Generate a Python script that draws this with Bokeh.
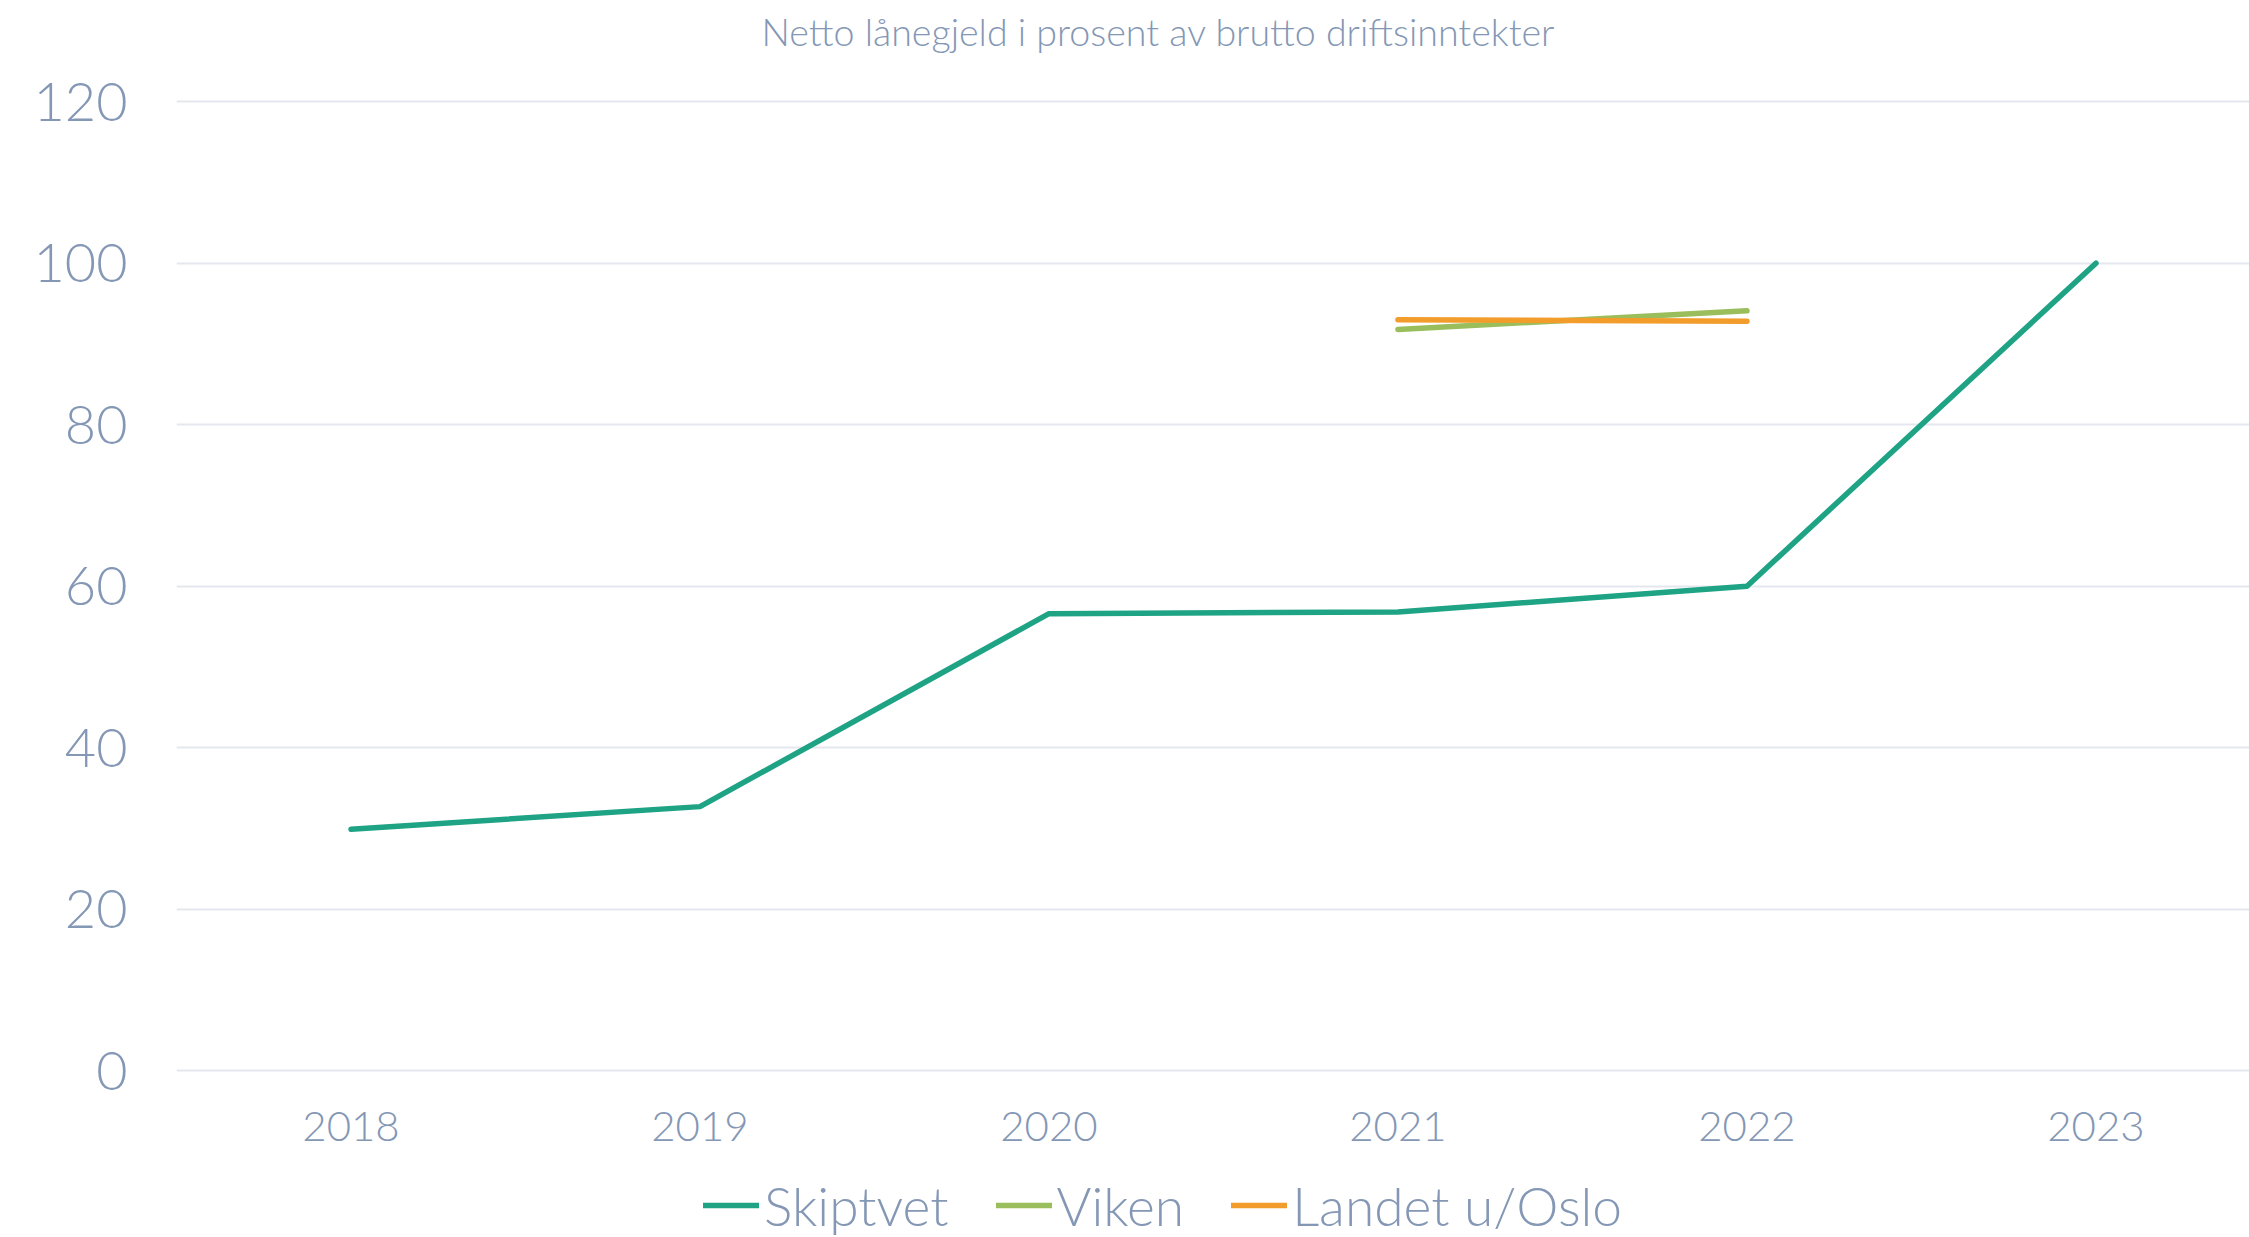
from bokeh.plotting import figure
from bokeh.models import Range1d, FixedTicker, Legend, LegendItem
from bokeh.embed import file_html
from bokeh.resources import INLINE

years = [2018, 2019, 2020, 2021, 2022, 2023]
skiptvet = [29.9, 32.7, 56.6, 56.8, 60.0, 100.0]
viken_years = [2021, 2022]
viken = [91.8, 94.1]
landet_years = [2021, 2022]
landet = [93.0, 92.8]
y_ticks = [0, 20, 40, 60, 80, 100, 120]

TXT = "#8497b5"
FONT = "Lato Light"

p = figure(width=2249, height=1237, output_backend="svg", toolbar_location=None,
           x_range=Range1d(2017.5, 2023.44), y_range=Range1d(-20.66, 125.1),
           min_border_left=176, min_border_right=0, min_border_top=0, min_border_bottom=0)
p.outline_line_color = None
p.background_fill_color = "white"
p.border_fill_color = "white"

p.title.text = "Netto lånegjeld i prosent av brutto driftsinntekter"
p.title.text_font = FONT
p.title.text_font_size = "37.6px"
p.title.text_font_style = "normal"
p.title.text_color = TXT
p.title.align = "left"
p.title.offset = 585
p.title.standoff = 13

p.xaxis.ticker = FixedTicker(ticks=years)
p.yaxis.ticker = FixedTicker(ticks=y_ticks)
p.xaxis.fixed_location = 0
for ax in (p.xaxis, p.yaxis):
    ax.axis_line_color = None
    ax.major_tick_line_color = None
    ax.minor_tick_line_color = None
    ax.major_tick_out = 0
    ax.major_tick_in = 0
    ax.minor_tick_out = 0
    ax.major_label_text_color = TXT
    ax.major_label_text_font = FONT
p.xaxis.major_label_text_font_size = "42px"
p.xaxis.major_label_standoff = 41
p.yaxis.major_label_text_font_size = "54px"
p.yaxis.major_label_standoff = 49

p.xgrid.grid_line_color = None
p.ygrid.grid_line_color = "#e4e7ed"
p.ygrid.grid_line_width = 2

r1 = p.line(years, skiptvet, line_color="#1ea384", line_width=5.5, line_cap="round", line_join="round")
r2 = p.line(viken_years, viken, line_color="#9bbe5c", line_width=5.5, line_cap="round", line_join="round")
r3 = p.line(landet_years, landet, line_color="#f29c2c", line_width=5.5, line_cap="round", line_join="round")

legend = Legend(items=[LegendItem(label="Skiptvet", renderers=[r1]),
                       LegendItem(label="Viken", renderers=[r2]),
                       LegendItem(label="Landet u/Oslo", renderers=[r3])],
                orientation="horizontal", location=(527, 0),
                label_text_font=FONT, label_text_font_size="53.3px", label_text_color=TXT,
                glyph_width=56, glyph_height=40, label_standoff=5, spacing=47,
                padding=0, margin=0, border_line_color=None, background_fill_alpha=0)
p.add_layout(legend, "center")

open("out.html", "w").write(file_html(p, INLINE))
